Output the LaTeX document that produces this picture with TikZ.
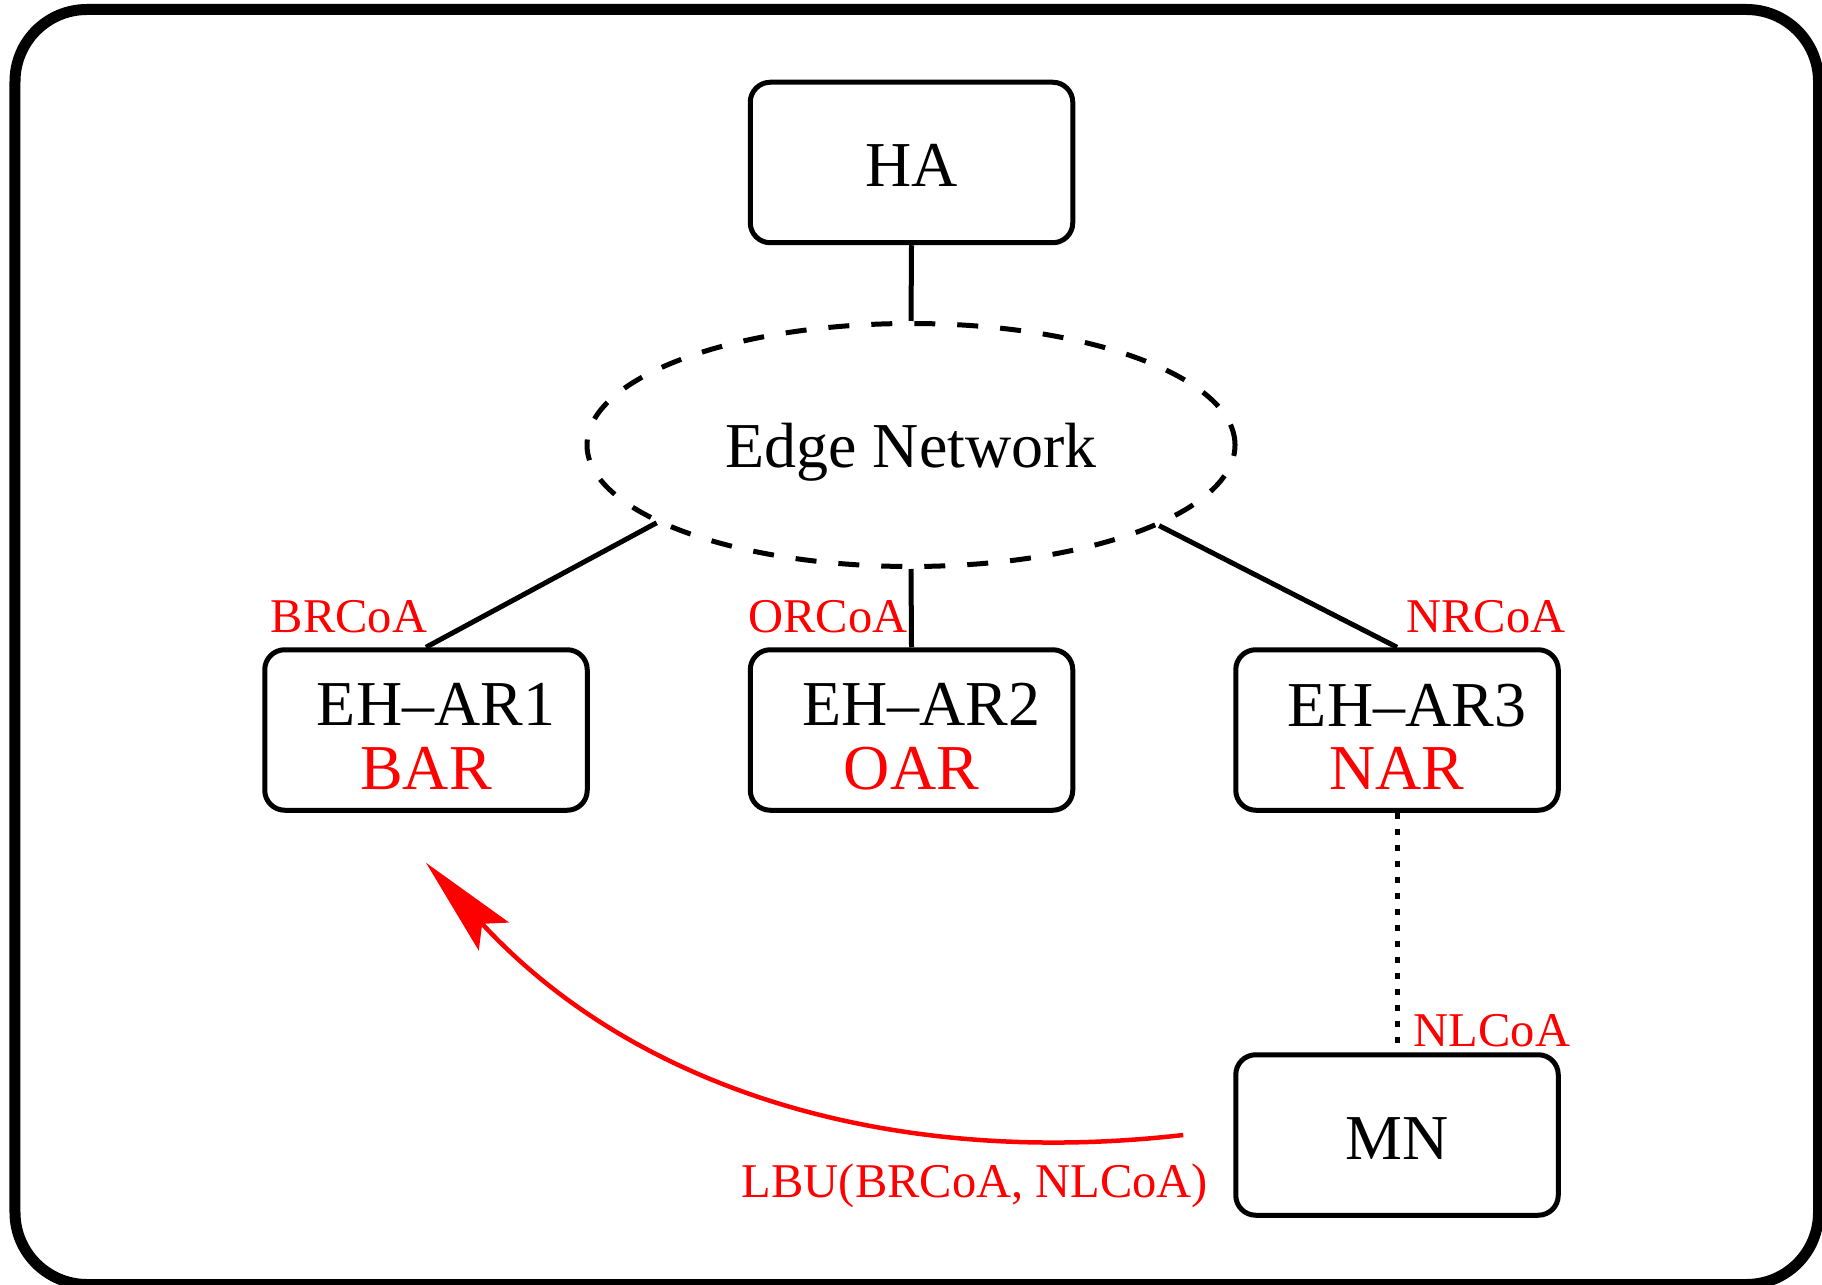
\documentclass[tikz,border=0pt]{standalone}
\usepackage{fontspec}
\setmainfont{Liberation Serif}
\usetikzlibrary{shapes.geometric,arrows.meta}
\begin{document}
\begin{tikzpicture}[x=1cm,y=1cm,
  box/.style={draw, line width=0.05cm, rounded corners=0.2cm, minimum width=3.225cm, minimum height=1.605cm, inner sep=0pt, font=\fontsize{18.2}{18.2}\selectfont, align=center},
  cloud/.style={draw, ellipse, dash pattern=on 0.21cm off 0.22cm, line width=0.05cm, minimum width=6.48cm, minimum height=2.43cm, inner sep=0pt, font=\fontsize{18.2}{18.2}\selectfont, text height=0.60cm, text depth=0.14cm},
  lbl/.style={text=red, font=\fontsize{13.8}{16}\selectfont, anchor=base, inner sep=0pt},
  conn/.style={line width=0.05cm},
  dotconn/.style={line width=0.05cm, dash pattern=on 0.06cm off 0.10cm},
  msg/.style={red, line width=0.045cm, -{Stealth[length=1.0cm, width=0.41cm, inset=0.17cm]}}]
\useasboundingbox (0,0) rectangle (18.22,12.84);
\draw[line width=0.11cm, rounded corners=0.72cm] (0.15,-0.005) rectangle (18.185,12.745);

\node[box, text height=0.49cm, text depth=0cm] (HA) at (9.115,11.215) {HA};
\node[cloud] (EN) at (9.11,8.39) {Edge Network};
\node[box] (AR1) at (4.26,5.54) {\rule{0pt}{0.56cm}\hspace*{0.2cm}EH–AR1\\\textcolor{red}{BAR}};
\node[box] (AR2) at (9.115,5.54) {\rule{0pt}{0.56cm}\hspace*{0.2cm}EH–AR2\\\textcolor{red}{OAR}};
\node[box] (AR3) at (13.97,5.54) {\rule{0pt}{0.56cm}\hspace*{0.2cm}EH–AR3\\\textcolor{red}{NAR}};
\node[box, text height=0.49cm, text depth=0cm] (MN) at (13.97,1.49) {MN};

\draw[conn] (HA.south) -- (EN.north);
\draw[conn] (EN.197) -- (AR1.north);
\draw[conn] (EN.south) -- (AR2.north);
\draw[conn] (EN.342) -- (AR3.north);
\draw[dotconn] (AR3.south) -- (MN.north);

\coordinate (lbuS) at ([xshift=-0.5cm]MN.west);
\coordinate (lbuE) at ([yshift=-0.5cm]AR1.south);
\draw[msg] (lbuS) .. controls (8.95,1.16) and (6.37,1.92) .. (lbuE);

\node[lbl] (brcoa) at (3.49,6.51) {BRCoA};
\node[lbl] (orcoa) at (8.28,6.51) {ORCoA};
\node[lbl] (nrcoa) at (14.86,6.51) {NRCoA};
\node[lbl] (nlcoa) at (14.92,2.38) {NLCoA};
\node[lbl] (lbu) at (9.75,0.87) {LBU(BRCoA, NLCoA)};
\end{tikzpicture}
\end{document}
